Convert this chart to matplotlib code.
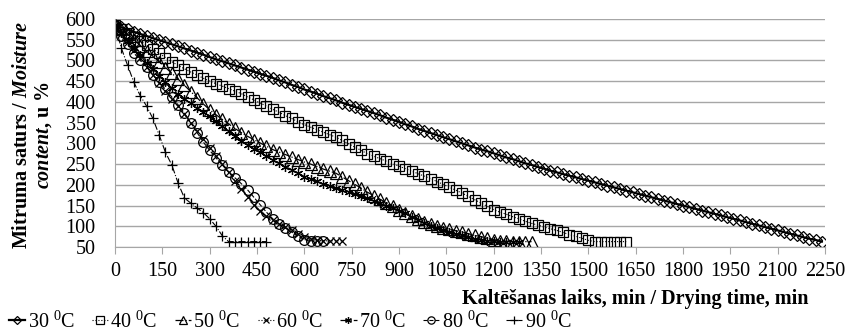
import numpy as np
import matplotlib
matplotlib.use("Agg")
import matplotlib.pyplot as plt

plt.rcParams["font.family"] = ["Liberation Serif", "DejaVu Serif"]
plt.rcParams["mathtext.fontset"] = "custom"
plt.rcParams["mathtext.rm"] = "Liberation Serif"
plt.rcParams["mathtext.it"] = "Liberation Serif:italic:bold"
plt.rcParams["mathtext.bf"] = "Liberation Serif:bold"

# moisture content (%) read every 20 min
step = 20
m30 = [585, 580, 575, 569, 564, 559, 554, 549, 544, 539,
       534, 529, 524, 519, 514, 508, 503, 498, 493, 488,
       483, 478, 473, 468, 463, 458, 452, 447, 441, 436,
       430, 425, 420, 414, 409, 404, 398, 393, 388, 383,
       378, 373, 368, 362, 357, 352, 346, 341, 335, 330,
       325, 320, 315, 310, 305, 300, 295, 290, 285, 281,
       276, 271, 266, 262, 257, 252, 248, 243, 239, 234,
       230, 226, 222, 218, 214, 210, 206, 202, 198, 194,
       190, 186, 182, 178, 174, 170, 166, 162, 158, 154,
       150, 146, 142, 138, 134, 130, 126, 122, 118, 114,
       110, 106, 102, 98, 94, 90, 86, 82, 78, 74,
       70, 67, 63]
m40 = [585, 575, 566, 556, 547, 537, 527, 517, 507, 497,
       488, 480, 472, 465, 457, 450, 444, 438, 432, 426,
       420, 412, 405, 397, 390, 382, 375, 367, 360, 352,
       345, 339, 333, 327, 321, 315, 307, 299, 291, 283,
       275, 269, 263, 257, 251, 245, 239, 233, 227, 221,
       215, 208, 201, 194, 187, 180, 172, 164, 156, 148,
       140, 134, 129, 123, 118, 112, 107, 103, 98, 94,
       90, 85, 80, 76, 71, 66, 63, 63, 63, 63,
       63, 63]
m50 = [585, 575, 563, 550, 536, 522, 510, 497, 483, 469,
       455, 440, 425, 410, 395, 381, 369, 358, 347, 336,
       326, 317, 309, 301, 293, 285, 279, 273, 267, 261,
       255, 250, 244, 238, 233, 228, 219, 210, 201, 192,
       182, 174, 165, 157, 148, 140, 132, 125, 118, 111,
       105, 101, 97, 93, 89, 86, 82, 78, 75, 71,
       68, 65, 64, 63, 63, 63, 63]
m60 = [585, 565, 545, 525, 505, 485, 466, 446, 427, 408,
       389, 370, 350, 330, 310, 290, 270, 250, 230, 210,
       190, 170, 152, 136, 124, 115, 106, 98, 90, 82,
       75, 70, 66, 65, 65, 65, 65]
m70 = [585, 566, 548, 530, 512, 495, 479, 463, 448, 434,
       420, 408, 397, 386, 375, 365, 353, 341, 329, 317,
       305, 296, 287, 278, 269, 260, 252, 244, 236, 228,
       220, 214, 209, 203, 198, 192, 187, 182, 178, 173,
       168, 162, 156, 150, 144, 138, 131, 123, 115, 108,
       100, 96, 91, 87, 82, 78, 74, 70, 67, 65,
       64, 63, 63, 63, 63]
m80 = [585, 560, 540, 518, 500, 484, 465, 448, 430, 412,
       393, 373, 350, 326, 303, 283, 265, 248, 230, 217,
       203, 188, 170, 152, 134, 118, 106, 96, 86, 76,
       68, 65, 64, 64]
m90 = [585, 530, 488, 447, 415, 390, 360, 320, 278, 248,
       204, 168, 156, 144, 133, 118, 100, 77, 63, 63,
       63, 63, 63, 63, 63]

labels = ["30 $^{\\mathrm{0}}$C", "40 $^{\\mathrm{0}}$C", "50 $^{\\mathrm{0}}$C",
          "60 $^{\\mathrm{0}}$C", "70 $^{\\mathrm{0}}$C", "80 $^{\\mathrm{0}}$C",
          "90 $^{\\mathrm{0}}$C"]
x_ticks = [0, 150, 300, 450, 600, 750, 900, 1050, 1200, 1350, 1500,
           1650, 1800, 1950, 2100, 2250]
y_ticks = [50, 100, 150, 200, 250, 300, 350, 400, 450, 500, 550, 600]

series = [m30, m40, m50, m60, m70, m80, m90]
markers = ["D", "s", "^", "x", (6, 2, 0), "o", "+"]
msizes = [6, 7.5, 8, 6, 6.5, 7, 7]
lstyles = ["-", ":", "-.", ":", "-.", "--", "-."]
lwidths = [1.6, 0.8, 0.9, 0.8, 0.9, 0.8, 0.8]

fig = plt.figure(figsize=(8.47, 3.33), dpi=100)
ax = fig.add_axes([115 / 847, 1 - 247 / 333, 710 / 847, 228 / 333])

for vals, lab, mk, ms, ls, lw in zip(series, labels, markers, msizes, lstyles, lwidths):
    t = step * np.arange(len(vals))
    ax.plot(t, vals, color="black", linestyle=ls, linewidth=lw, marker=mk,
            markersize=ms, markerfacecolor="none", markeredgecolor="black",
            markeredgewidth=0.9, label=lab)

ax.set_xlim(0, 2250)
ax.set_ylim(50, 600)
ax.set_xticks(x_ticks)
ax.set_yticks(y_ticks)
ax.grid(axis="y", color="#a6a6a6", linewidth=1.0)
ax.set_axisbelow(True)
for s in ["top", "right"]:
    ax.spines[s].set_visible(False)
ax.spines["left"].set_color("#a6a6a6")
ax.spines["bottom"].set_color("#a6a6a6")
ax.tick_params(axis="y", length=0, pad=14, labelsize=14.5)
ax.tick_params(axis="x", length=5, color="#a6a6a6", pad=6, labelsize=14.5)

fig.text(33 / 847, 1 - 135 / 333,
         "Mitruma saturs / $\\mathit{Moisture}$\n$\\mathit{content}$, u %",
         rotation=90, ha="center", va="center", multialignment="center",
         fontsize=14.5, fontweight="bold", linespacing=1.1)
fig.text(808 / 847, 1 - 299 / 333, "Kaltēšanas laiks, min / Drying time, min",
         ha="right", va="center", fontsize=14.5, fontweight="bold")

fig.legend(loc="lower left", bbox_to_anchor=(0.006, -0.01), ncol=7, frameon=False,
           fontsize=14.5, handlelength=0.8, handletextpad=0.12, columnspacing=0.85,
           borderaxespad=0.0, borderpad=0.2, markerscale=0.75)

fig.savefig("out.png", dpi=100)
